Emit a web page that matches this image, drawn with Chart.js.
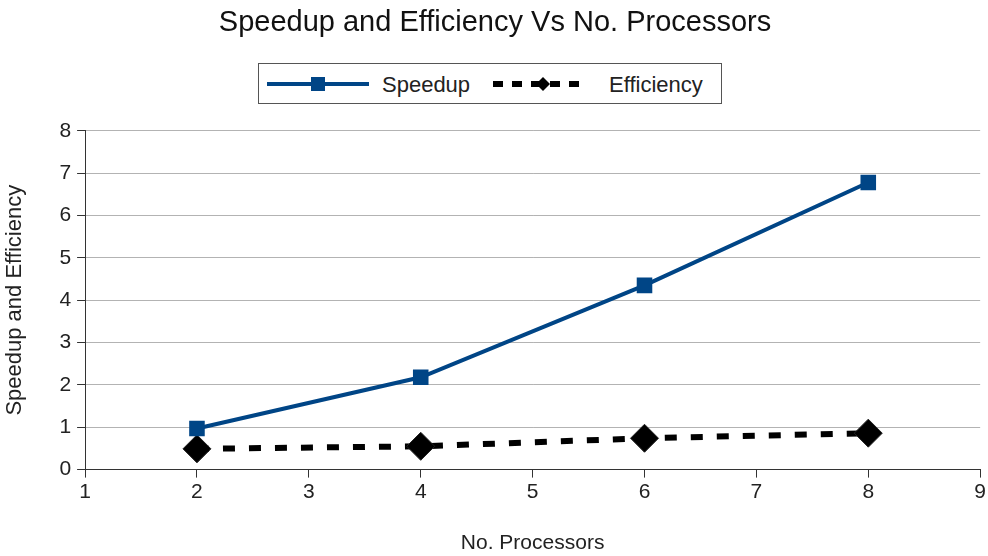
<!DOCTYPE html>
<html>
<head>
<meta charset="utf-8">
<script src="https://cdn.jsdelivr.net/npm/chart.js@4.4.0/dist/chart.umd.min.js"></script>
<style>
  html, body { margin: 0; padding: 0; background: #fff; }
  #wrap { position: relative; width: 988px; height: 556px; }
  #legend {
    position: absolute; left: 258px; top: 63px; width: 464px; height: 41px;
    border: 1px solid #555; box-sizing: border-box; background: #fff;
    font-family: "Liberation Sans", Arial, sans-serif; font-size: 22px; color: #222;
  }
  #legend svg { position: absolute; top: 0; }
  #legend span { position: absolute; top: 8px; }
</style>
</head>
<body>
<div id="wrap">
  <canvas id="myChart" width="988" height="556"></canvas>
  <div id="legend">
    <svg style="left:6px" width="108" height="39">
      <line x1="2" y1="20" x2="104" y2="20" stroke="#004586" stroke-width="4"/>
      <rect x="46" y="13" width="14" height="14" fill="#004586"/>
    </svg>
    <span style="left:123px">Speedup</span>
    <svg style="left:232px" width="100" height="39">
      <line x1="2" y1="20" x2="96" y2="20" stroke="#000" stroke-width="6" stroke-dasharray="10 9"/>
      <polygon points="52,13 59,20 52,27 45,20" fill="#000"/>
    </svg>
    <span style="left:350px">Efficiency</span>
  </div>
</div>
<script>
const processors = [2, 4, 6, 8];
const speedup = [0.97, 2.18, 4.35, 6.78];
const efficiency = [0.49, 0.55, 0.74, 0.86];

const toPoints = (ys) => processors.map((x, i) => ({ x: x, y: ys[i] }));

const data = {
    datasets: [{
        label: 'Speedup',
        data: toPoints(speedup),
        borderColor: '#004586',
        backgroundColor: '#004586',
        borderWidth: 4,
        pointStyle: 'rect',
        pointRadius: 11,
        pointBorderWidth: 0,
        order: 1
    }, {
        label: 'Efficiency',
        data: toPoints(efficiency),
        borderColor: '#000000',
        backgroundColor: '#000000',
        borderWidth: 6,
        borderDash: [12, 14],
        pointStyle: 'rectRot',
        pointRadius: 14,
        pointBorderWidth: 1,
        pointBorderColor: '#222',
        order: 2
    }]
};

const tickFont = { family: 'Liberation Sans', size: 21 };

const config = {
    type: 'line',
    data: data,
    options: {
        responsive: false,
        animation: false,
        layout: { autoPadding: false, padding: { left: 2, right: 0, top: 0, bottom: 0 } },
        plugins: {
            legend: { display: false },
            tooltip: { enabled: false },
            title: {
                display: true,
                text: 'Speedup and Efficiency Vs No. Processors',
                color: '#111',
                font: { family: 'Liberation Sans', size: 29, weight: 'normal' },
                padding: { top: 6, bottom: 90 }
            }
        },
        scales: {
            x: {
                type: 'linear',
                min: 1,
                max: 9,
                ticks: { stepSize: 1, color: '#222', font: tickFont, padding: 2 },
                grid: { drawOnChartArea: false, tickLength: 8, tickColor: '#333', lineWidth: 1 },
                border: { color: '#333', width: 1 },
                title: {
                    display: true,
                    text: 'No. Processors',
                    color: '#222',
                    font: { family: 'Liberation Sans', size: 21 },
                    padding: { top: 24, bottom: 0 }
                }
            },
            y: {
                min: 0,
                max: 8,
                ticks: { stepSize: 1, color: '#222', font: tickFont, padding: 6 },
                grid: { color: '#b3b3b3', tickLength: 8, tickColor: '#333', lineWidth: 1 },
                border: { color: '#333', width: 1 },
                title: {
                    display: true,
                    text: 'Speedup and Efficiency',
                    color: '#222',
                    font: { family: 'Liberation Sans', size: 22 },
                    padding: { top: 0, bottom: 25 }
                }
            }
        }
    }
};

var myChart = new Chart(
    document.getElementById('myChart'),
    config
);
</script>
</body>
</html>
